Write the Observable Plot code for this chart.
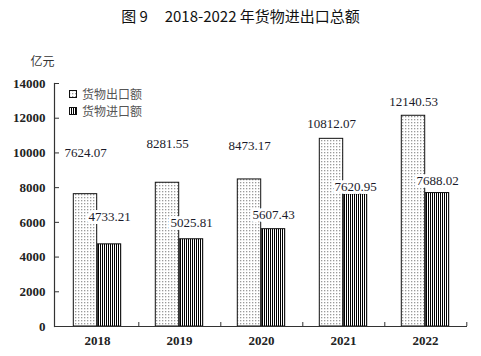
<!DOCTYPE html>
<html><head><meta charset="utf-8">
<script src="https://cdn.jsdelivr.net/npm/d3@7"></script>
<script src="https://cdn.jsdelivr.net/npm/@observablehq/plot@0.6"></script>
<style>
html,body{margin:0;padding:0;background:#fff;}
#wrap{position:relative;width:481px;height:356px;}
#title{height:32px;line-height:32px;text-align:center;font-family:"Noto Sans CJK SC",sans-serif;font-size:15px;color:#111;white-space:pre;}
#legend{position:absolute;left:69px;top:85px;font-family:"Noto Sans CJK SC",serif;font-size:12px;color:#555;line-height:17px;}
#legend div{display:flex;align-items:center;}
#legend svg{margin-right:5px;}
#chart g[aria-label="y-axis tick label"], #chart g[aria-label="x-axis tick label"],
#chart g[aria-label="y-axis tick label"] text, #chart g[aria-label="x-axis tick label"] text {font-family:"Liberation Serif", "Times New Roman", serif !important;}
</style></head>
<body>
<svg width="0" height="0" style="position:absolute">
<defs>
<pattern id="dots" width="3" height="3" patternUnits="userSpaceOnUse">
<rect width="3" height="3" fill="#fff"/><rect width="1.3" height="1.3" fill="#9a9a9a"/>
</pattern>
<pattern id="stripes" width="2" height="2" patternUnits="userSpaceOnUse">
<rect width="2" height="2" fill="#fff"/><rect width="1" height="2" fill="#000"/>
</pattern>
</defs>
</svg>
<div id="wrap">
<div id="title">图 9     2018-2022 年货物进出口总额</div>
<div id="chart"></div>
<div id="legend"></div>
</div>
<script>
const years = ["2018", "2019", "2020", "2021", "2022"];
const exportValues = [7624.07, 8281.55, 8473.17, 10812.07, 12140.53];
const importValues = [4733.21, 5025.81, 5607.43, 7620.95, 7688.02];
const exportLabelAt = [10010, 10550, 10410, 11700, 12960];
const importLabelAt = [6330, 6000, 6440, 8060, 8400];
const yTicks = [0, 2000, 4000, 6000, 8000, 10000, 12000, 14000];
const seriesNames = ["货物出口额", "货物进口额"];
const yUnit = "亿元";

const width = 481, height = 324, mL = 54, mR = 14, mT = 51, mB = 30;
const step = (width - mL - mR) / years.length;
const half = step / 2, barW = 24;

const rows = years.map((y, i) => ({
  year: y, exp: exportValues[i], imp: importValues[i],
  expAt: exportLabelAt[i], impAt: importLabelAt[i]
}));
const fmt = d3.format(".2f");
const numFont = "Liberation Serif";

const plot = Plot.plot({
  width, height,
  marginLeft: mL, marginRight: mR, marginTop: mT, marginBottom: mB,
  style: {fontFamily: numFont, background: "white", color: "#222"},
  x: {domain: years, padding: 0},
  y: {domain: [0, 14000]},
  marks: [
    Plot.barY(rows, {x: "year", y: "exp", fill: "url(#dots)", stroke: "#111", strokeWidth: 1,
      insetLeft: half - barW, insetRight: half}),
    Plot.barY(rows, {x: "year", y: "imp", fill: "url(#stripes)", stroke: "#111", strokeWidth: 1,
      insetLeft: half, insetRight: half - barW}),
    Plot.text(rows, {x: "year", y: "expAt", text: d => fmt(d.exp), dx: -barW / 2,
      fontSize: 13, fontFamily: numFont, fill: "#1a1a2a"}),
    Plot.text(rows, {x: "year", y: "impAt", text: d => fmt(d.imp), dx: barW / 2,
      fontSize: 13, fontFamily: numFont, fill: "#1a1a2a", stroke: "white", strokeWidth: 6, paintOrder: "stroke"}),
    Plot.axisY({ticks: yTicks, tickFormat: d3.format("d"), tickSize: -5, tickPadding: 14,
      fontSize: 13, fontWeight: "bold", fontFamily: numFont, label: null, stroke: "#333"}),
    Plot.axisX({tickSize: 0, tickPadding: 9, fontSize: 13, fontWeight: "bold", fontFamily: numFont, label: null}),
    Plot.axisX({tickSize: -4, tickFormat: () => "", dx: half, label: null, stroke: "#333"}),
    Plot.ruleY([0], {stroke: "#333", strokeWidth: 1.2}),
    Plot.frame({anchor: "left", stroke: "#333", strokeWidth: 1.2}),
    Plot.text([yUnit], {frameAnchor: "top-left", dx: -24, dy: -26, fontSize: 12,
      fontFamily: "Noto Sans CJK SC", fill: "#333"})
  ]
});
document.getElementById("chart").appendChild(plot);

const legend = document.getElementById("legend");
seriesNames.forEach((name, i) => {
  const row = document.createElement("div");
  row.innerHTML = `<svg width="8" height="8"><rect x="0.5" y="0.5" width="7" height="7" fill="url(#${i === 0 ? "dots" : "stripes"})" stroke="#111"/></svg><span>${name}</span>`;
  legend.appendChild(row);
});
</script>
</body></html>
